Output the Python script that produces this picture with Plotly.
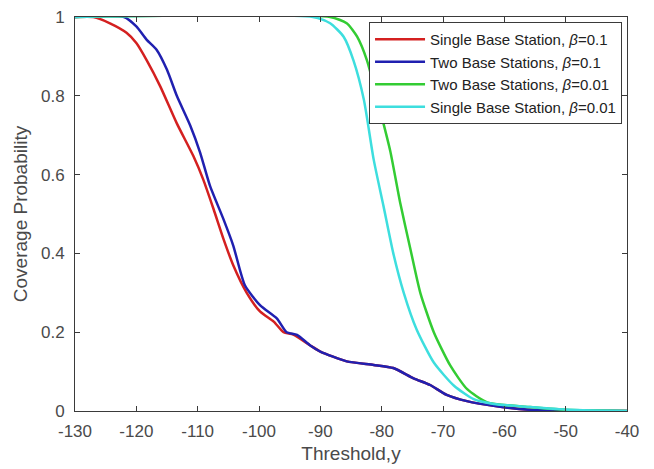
import plotly.graph_objects as go

# ---- data ----
blue_x = [-130, -122, -120, -118.3, -116.7, -115, -113.4, -111.2, -109.6, -108, -105.8, -104.2,
          -102.3, -99.8, -97.1, -95.5, -93.8, -91.7, -90, -85.7, -81.3, -78.1, -74.8, -72.1,
          -69.4, -66.1, -61.2, -55.8, -50, -40]
blue_y = [1, 1, 0.976, 0.942, 0.917, 0.866, 0.80, 0.724, 0.656, 0.572, 0.487, 0.42,
          0.319, 0.268, 0.235, 0.20, 0.193, 0.167, 0.151, 0.126, 0.117, 0.109, 0.083, 0.066,
          0.041, 0.025, 0.012, 0.003, 0.001, 0]

red_x = [-130, -127, -124.3, -121.6, -120, -118.3, -116.1, -113.4, -110.7, -109.1, -107.4,
         -105.8, -104.2, -102.0, -99.8, -97.6, -96.0, -94.4, -91.7, -90, -85.7, -81.3, -78.1,
         -74.8, -72.1, -69.4, -66.1, -61.2, -55.8, -50, -40]
red_y = [1, 1, 0.984, 0.96, 0.934, 0.89, 0.824, 0.73, 0.647, 0.588, 0.512,
         0.437, 0.37, 0.30, 0.252, 0.227, 0.20, 0.194, 0.167, 0.151, 0.126, 0.117, 0.109,
         0.083, 0.066, 0.041, 0.025, 0.012, 0.003, 0.001, 0]

green_x = [-130, -88.4, -85.7, -84.0, -82.4, -80.2, -78.6, -77.0, -75.3, -73.7, -71.5, -68.8,
           -66.1, -62.8, -55.8, -50, -45, -40]
green_y = [1, 1, 0.984, 0.95, 0.89, 0.76, 0.66, 0.53, 0.41, 0.30, 0.20, 0.115,
           0.056, 0.022, 0.01, 0.003, 0.001, 0]

cyan_x = [-130, -91.2, -88.4, -86.2, -84.6, -82.9, -81.3, -79.7, -78.1, -76.4, -74.3, -71.5,
          -68.2, -65.0, -61.7, -55.8, -49.3, -40]
cyan_y = [1, 1, 0.984, 0.95, 0.89, 0.79, 0.638, 0.52, 0.40, 0.30, 0.207, 0.123,
          0.064, 0.03, 0.018, 0.01, 0.003, 0]

names = ["Single Base Station, <i>β</i>=0.1", "Two Base Stations, <i>β</i>=0.1",
         "Two Base Stations, <i>β</i>=0.01", "Single Base Station, <i>β</i>=0.01"]
colors = ["#d42020", "#2020b0", "#33cc33", "#3ddede"]

x_ticks = list(range(-130, -39, 10))
x_tick_text = [str(v) for v in x_ticks]  # hyphen-minus as in the reference
y_ticks = [0, 0.2, 0.4, 0.6, 0.8, 1]
y_tick_text = ["0", "0.2", "0.4", "0.6", "0.8", "1"]

fig = go.Figure()
for xs, ys, nm, c in zip([red_x, blue_x, green_x, cyan_x], [red_y, blue_y, green_y, cyan_y], names, colors):
    fig.add_trace(go.Scatter(x=xs, y=ys, mode="lines", name=nm,
                             line=dict(color=c, width=2.5, shape="spline", smoothing=0.6)))

font_family = "Arial, Liberation Sans, sans-serif"
tick_color = "#4a4a4a"
axis_common = dict(showline=True, linecolor="#3a3a3a", linewidth=1, mirror="ticks",
                   ticks="inside", ticklen=5, tickcolor="#3a3a3a", showgrid=False, zeroline=False,
                   automargin=False,
                   tickfont=dict(size=17, color=tick_color, family=font_family))

fig.update_layout(
    width=654, height=469,
    margin=dict(l=75, r=27, t=17, b=58),
    paper_bgcolor="white", plot_bgcolor="white",
    font=dict(family=font_family, color=tick_color),
    xaxis=dict(range=[-130, -40], tickvals=x_ticks, ticktext=x_tick_text, ticklabelstandoff=5,
               title=dict(text="Threshold,y", font=dict(size=19, color=tick_color), standoff=6),
               **axis_common),
    yaxis=dict(range=[0, 1], tickvals=y_ticks, ticktext=y_tick_text, ticklabelstandoff=6,
               title=dict(text="Coverage Probability", font=dict(size=19, color=tick_color), standoff=8),
               **axis_common),
    legend=dict(x=0.991, y=0.987, xanchor="right", yanchor="top", bgcolor="white",
                bordercolor="#3a3a3a", borderwidth=1, font=dict(size=15, color="#222222"),
                tracegroupgap=0, itemwidth=50),
    showlegend=True,
)

fig.write_html("out.html", config={"displayModeBar": False},
               post_script="document.body.style.margin='0';document.body.style.overflow='hidden';")
